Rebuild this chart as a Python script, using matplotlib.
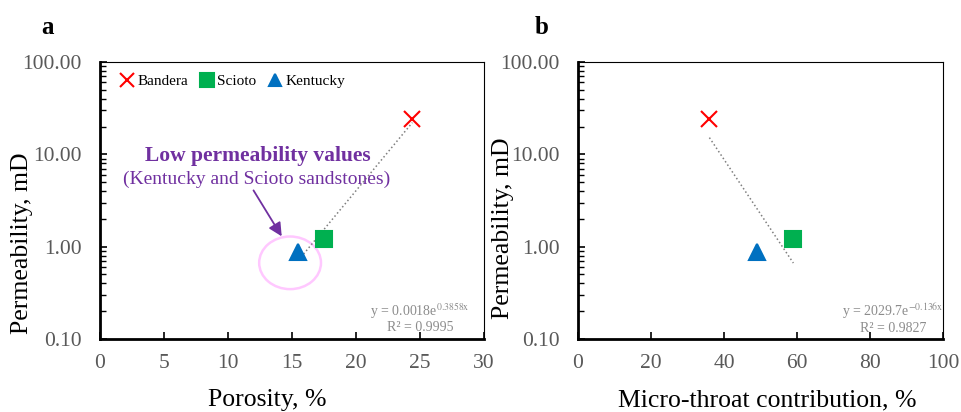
import numpy as np
import matplotlib.pyplot as plt
from matplotlib.patches import Ellipse
from matplotlib.ticker import FormatStrFormatter, LogLocator, NullFormatter

plt.rcParams['font.family'] = ['Liberation Serif', 'DejaVu Serif']
plt.rcParams['mathtext.fontset'] = 'stix'

samples = ['Bandera', 'Scioto', 'Kentucky']
porosity = [24.4, 17.5, 15.5]
micro_throat = [36.0, 59.0, 49.0]
permeability = [24.0, 1.2, 0.88]
markers = ['x', 's', '^']
colors = ['#FF0000', '#00B050', '#0070C0']
msizes = [12, 11.5, 11]

fit_a = (0.0018, 0.3858)   # y = a*exp(b*x), porosity
fit_b = (2029.7, -0.136)   # micro-throat

gray = '#595959'
purple = '#7030A0'

fig = plt.figure(figsize=(9.62, 4.12), dpi=100)
ax1 = fig.add_axes([100 / 962, 73 / 412, 384 / 962, 277 / 412])
ax2 = fig.add_axes([578 / 962, 73 / 412, 365 / 962, 277 / 412])


def style(ax):
    ax.set_yscale('log')
    ax.set_ylim(0.1, 100)
    ax.yaxis.set_major_formatter(FormatStrFormatter('%.2f'))
    ax.yaxis.set_minor_locator(LogLocator(base=10, subs=np.arange(2, 10)))
    ax.yaxis.set_minor_formatter(NullFormatter())
    ax.tick_params(axis='both', which='major', direction='in', labelsize=15.5,
                   labelcolor=gray, length=5, width=1.2)
    ax.tick_params(axis='y', which='major', pad=13)
    ax.tick_params(axis='x', which='major', pad=11)
    ax.tick_params(axis='y', which='minor', direction='in', length=4, width=1)
    ax.tick_params(axis='x', which='minor', bottom=False)
    for s in ['left', 'bottom']:
        ax.spines[s].set_linewidth(2)
    for s in ['top', 'right']:
        ax.spines[s].set_linewidth(0.8)


# panel a
for i in range(3):
    ax1.plot(porosity[i], permeability[i], linestyle='none', marker=markers[i],
             color=colors[i], ms=msizes[i], mew=1.5, label=samples[i], zorder=3)
xs = np.linspace(min(porosity), max(porosity), 50)
ax1.plot(xs, fit_a[0] * np.exp(fit_a[1] * xs), ls=':', color='#7f7f7f', lw=1.1)
style(ax1)
ax1.set_xlim(0, 30)
ax1.set_xticks(np.arange(0, 31, 5))
ax1.set_xlabel('Porosity, %', fontsize=18.5, va='center')
ax1.xaxis.set_label_coords(0.435, -0.222)
ax1.set_ylabel('Permeability, mD', fontsize=18.5, va='center')
ax1.yaxis.set_label_coords(-0.203, 0.345)
ax1.legend(loc='upper left', ncol=3, frameon=False, fontsize=11, markerscale=0.85,
           handletextpad=0.1, columnspacing=0.6, handlelength=1.2,
           bbox_to_anchor=(0.01, 1.005))
ax1.text(0.833, 0.076, 'y = 0.0018e$^{\\mathrm{0.3858x}}$\nR² = 0.9995',
         transform=ax1.transAxes, fontsize=10, color='#8c8c8c', ha='center',
         va='center', linespacing=1.05)
ax1.text(0.411, 0.662, 'Low permeability values', transform=ax1.transAxes,
         fontsize=15.5, fontweight='bold', color=purple, ha='center', va='center')
ax1.text(0.408, 0.578, '(Kentucky and Scioto sandstones)', transform=ax1.transAxes,
         fontsize=14, color=purple, ha='center', va='center')
ax1.annotate('', xy=(0.477, 0.362), xytext=(0.396, 0.545), xycoords='axes fraction',
             arrowprops=dict(arrowstyle='-|>', color=purple, lw=1.3, mutation_scale=20))
ax1.add_patch(Ellipse((0.495, 0.275), 0.161, 0.19, transform=ax1.transAxes,
                      fill=False, edgecolor='#FFC8FF', lw=1.8))
fig.text(48 / 962, 1 - 28 / 412, 'a', fontsize=18, fontweight='bold', ha='center', va='center')

# panel b
for i in range(3):
    ax2.plot(micro_throat[i], permeability[i], linestyle='none', marker=markers[i],
             color=colors[i], ms=msizes[i], mew=1.5, zorder=3)
xs = np.linspace(min(micro_throat), max(micro_throat), 50)
ax2.plot(xs, fit_b[0] * np.exp(fit_b[1] * xs), ls=':', color='#7f7f7f', lw=1.1)
style(ax2)
ax2.set_xlim(0, 100)
ax2.set_xticks(np.arange(0, 101, 20))
ax2.set_xlabel('Micro-throat contribution, %', fontsize=18.5, va='center')
ax2.xaxis.set_label_coords(0.518, -0.222)
ax2.set_ylabel('Permeability, mD', fontsize=18.5, va='center')
ax2.yaxis.set_label_coords(-0.205, 0.40)
ax2.text(0.863, 0.076, 'y = 2029.7e$^{\\mathrm{-0.136x}}$\nR² = 0.9827',
         transform=ax2.transAxes, fontsize=10, color='#8c8c8c', ha='center',
         va='center', linespacing=1.05)
fig.text(542 / 962, 1 - 28 / 412, 'b', fontsize=18, fontweight='bold', ha='center', va='center')

fig.savefig('out.png', dpi=100)
